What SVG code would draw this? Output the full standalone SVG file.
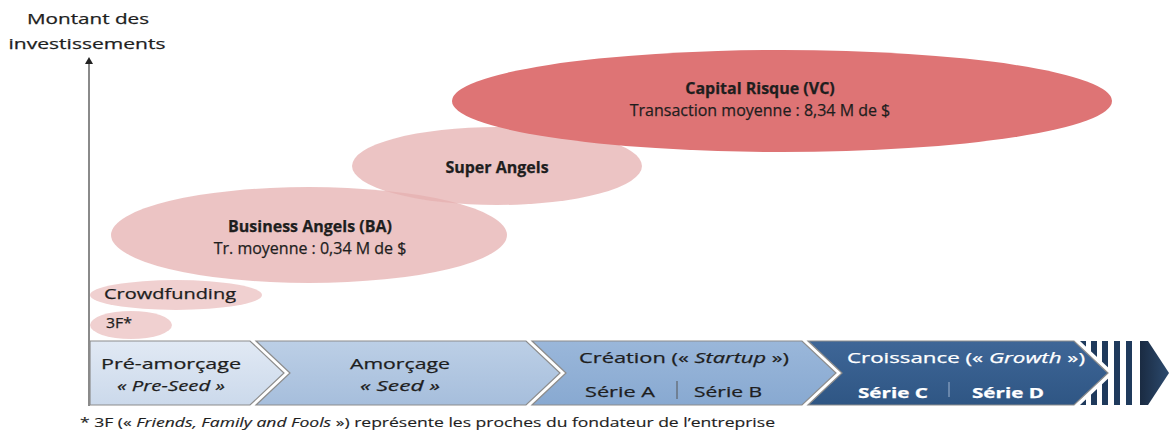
<svg xmlns="http://www.w3.org/2000/svg" width="1170" height="434" viewBox="0 0 1170 434">
<style>
.t{font-family:"Open Sans","Liberation Sans",sans-serif;font-size:15px;fill:#1e1e1e;stroke:#1e1e1e;stroke-width:0.25}
.e{font-size:16px}
.b{font-weight:bold}
.i{font-style:italic}
.w{fill:#ffffff;stroke:#ffffff}
.pink{fill:#e6b0b0;fill-opacity:0.75}
.pale{fill:#e6b0b0;fill-opacity:0.6}
.stage{stroke:#8c8c8c;stroke-width:1.2}
</style>
<defs>
<linearGradient id="g1" x1="0" y1="0" x2="0" y2="1"><stop offset="0" stop-color="#e1e9f4"/><stop offset="1" stop-color="#cbd9eb"/></linearGradient>
<linearGradient id="g2" x1="0" y1="0" x2="0" y2="1"><stop offset="0" stop-color="#bccfe6"/><stop offset="1" stop-color="#a6bedc"/></linearGradient>
<linearGradient id="g3" x1="0" y1="0" x2="0" y2="1"><stop offset="0" stop-color="#9ab7da"/><stop offset="1" stop-color="#88a9d1"/></linearGradient>
<linearGradient id="g4" x1="0" y1="0" x2="0" y2="1"><stop offset="0" stop-color="#3e6697"/><stop offset="1" stop-color="#2f5684"/></linearGradient>
<linearGradient id="g5" x1="0" y1="0" x2="1" y2="0"><stop offset="0" stop-color="#1a2b42"/><stop offset="1" stop-color="#2c4a6e"/></linearGradient>
<clipPath id="stripeClip"><path d="M1080,341 H1136 V405 H1080 L1114,373 Z"/></clipPath>
</defs>
<rect width="1170" height="434" fill="#ffffff"/>

<g id="axis-label">
<text class="t" x="88" y="24" text-anchor="middle" textLength="122" lengthAdjust="spacingAndGlyphs">Montant des</text>
<text class="t" x="87" y="49" text-anchor="middle" textLength="157" lengthAdjust="spacingAndGlyphs">investissements</text>
</g>

<g id="connectors">
<line x1="89" y1="406" x2="89" y2="62" stroke="#8a8a8a" stroke-width="2"/>
<path d="M85,64 L89,57 L93,64 Z" fill="#222"/>
</g>

<g id="node-3f">
<ellipse class="pale" cx="131" cy="325" rx="41" ry="14"/>
<text class="t" x="106" y="328" textLength="26" lengthAdjust="spacingAndGlyphs">3F*</text>
</g>
<g id="node-crowdfunding">
<ellipse class="pale" cx="176" cy="295" rx="86" ry="15"/>
<text class="t" x="104" y="299" textLength="132" lengthAdjust="spacingAndGlyphs">Crowdfunding</text>
</g>
<g id="node-ba">
<ellipse class="pink" cx="309" cy="235" rx="198" ry="48"/>
<text class="t e b" x="310" y="232" text-anchor="middle">Business Angels (BA)</text>
<text class="t e" x="310" y="254" text-anchor="middle">Tr. moyenne : 0,34 M de $</text>
</g>
<g id="node-super-angels">
<ellipse class="pink" cx="497" cy="166" rx="145" ry="39"/>
<text class="t e b" x="497" y="173" text-anchor="middle">Super Angels</text>
</g>
<g id="node-vc">
<ellipse cx="782" cy="101" rx="330" ry="51" fill="#de7475"/>
<text class="t e b" x="760" y="94" text-anchor="middle">Capital Risque (VC)</text>
<text class="t e" x="760" y="116" text-anchor="middle">Transaction moyenne : 8,34 M de $</text>
</g>

<g id="stage-preseed">
<path class="stage" d="M90,341 H250 L284,373 L250,405 H90 Z" fill="url(#g1)"/>
<text class="t" x="171" y="369" text-anchor="middle" textLength="140" lengthAdjust="spacingAndGlyphs">Pré-amorçage</text>
<text class="t i" x="171" y="391" text-anchor="middle" textLength="108" lengthAdjust="spacingAndGlyphs">« Pre-Seed »</text>
</g>
<g id="stage-seed">
<path class="stage" d="M256,341 H526 L560,373 L526,405 H256 L290,373 Z" fill="url(#g2)"/>
<text class="t" x="400" y="369" text-anchor="middle" textLength="100" lengthAdjust="spacingAndGlyphs">Amorçage</text>
<text class="t i" x="400" y="391" text-anchor="middle" textLength="80" lengthAdjust="spacingAndGlyphs">« Seed »</text>
</g>
<g id="stage-startup">
<path class="stage" d="M532,341 H802 L836,373 L802,405 H532 L566,373 Z" fill="url(#g3)"/>
<text class="t" x="684" y="363" text-anchor="middle" textLength="210" lengthAdjust="spacingAndGlyphs">Création (« <tspan class="i">Startup</tspan> »)</text>
<text class="t" x="620" y="397" text-anchor="middle" textLength="70" lengthAdjust="spacingAndGlyphs">Série A</text>
<line x1="677" y1="381" x2="677" y2="399" stroke="#555" stroke-width="1"/>
<text class="t" x="728" y="397" text-anchor="middle" textLength="68" lengthAdjust="spacingAndGlyphs">Série B</text>
</g>
<g id="stage-growth">
<path class="stage" d="M808,341 H1074 L1108,373 L1074,405 H808 L842,373 Z" fill="url(#g4)"/>
<text class="t w" x="966" y="363" text-anchor="middle" textLength="238" lengthAdjust="spacingAndGlyphs">Croissance (« <tspan class="i">Growth</tspan> »)</text>
<text class="t w b" x="893" y="398" text-anchor="middle" textLength="70" lengthAdjust="spacingAndGlyphs">Série C</text>
<line x1="949" y1="382" x2="949" y2="397" stroke="#9fb4cf" stroke-width="1"/>
<text class="t w b" x="1008" y="398" text-anchor="middle" textLength="72" lengthAdjust="spacingAndGlyphs">Série D</text>
</g>
<g id="stage-continuation">
<g clip-path="url(#stripeClip)" fill="#1f3a5c">
<rect x="1080" y="341" width="6" height="64"/>
<rect x="1091" y="341" width="6" height="64"/>
<rect x="1102" y="341" width="6" height="64"/>
<rect x="1114" y="341" width="6" height="64"/>
<rect x="1126" y="341" width="6" height="64"/>
</g>
<path d="M1140,341 H1148 L1169,373 L1148,405 H1140 Z" fill="url(#g5)"/>
</g>

<g id="footnote">
<text class="t" x="80" y="427" style="font-size:13px;stroke-width:0.15" textLength="695" lengthAdjust="spacingAndGlyphs">* 3F (« <tspan class="i">Friends, Family and Fools</tspan> ») représente les proches du fondateur de l’entreprise</text>
</g>
</svg>
